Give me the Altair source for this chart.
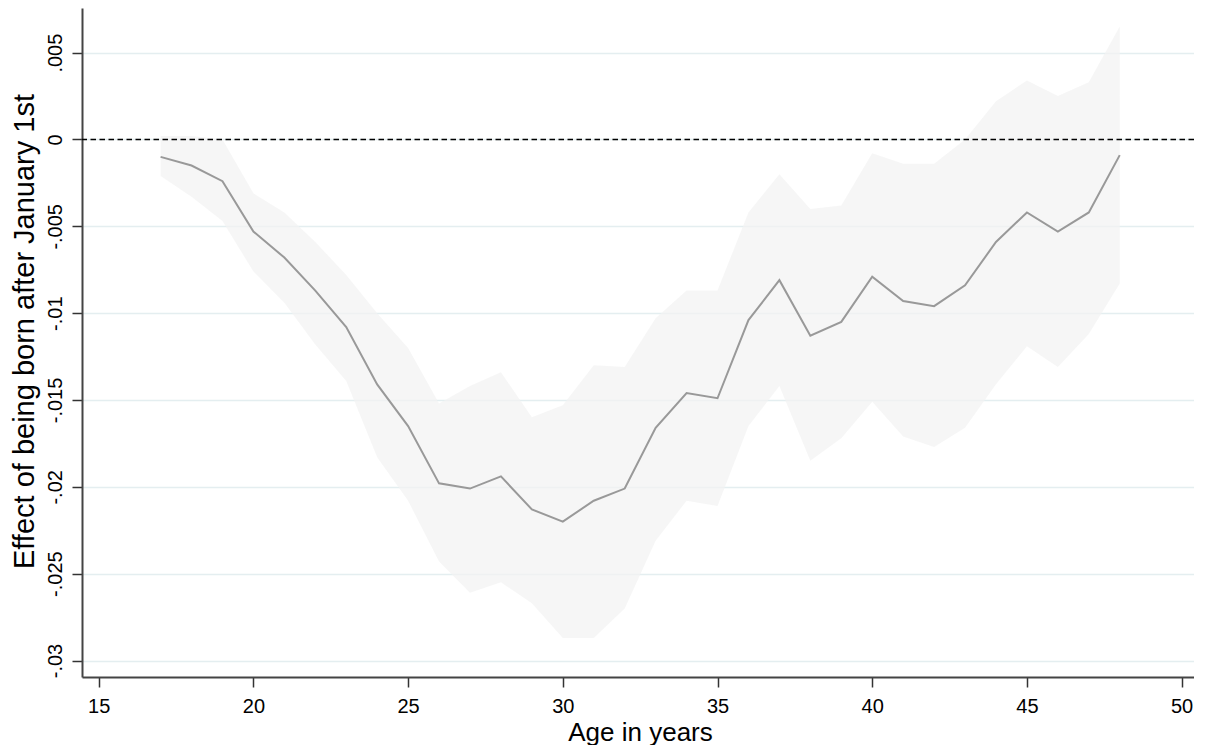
import altair as alt
import pandas as pd

ages = list(range(17, 49))
estimate = [-0.0010, -0.0015, -0.0024, -0.0053, -0.0068, -0.0087, -0.0108, -0.0141,
            -0.0165, -0.0198, -0.0201, -0.0194, -0.0213, -0.0220, -0.0208, -0.0201,
            -0.0166, -0.0146, -0.0149, -0.0104, -0.0081, -0.0113, -0.0105, -0.0079,
            -0.0093, -0.0096, -0.0084, -0.0059, -0.0042, -0.0053, -0.0042, -0.0009]
upper = [0.0002, 0.0002, 0.0000, -0.0031, -0.0042, -0.0059, -0.0078, -0.0100,
         -0.0120, -0.0152, -0.0142, -0.0134, -0.0160, -0.0153, -0.0130, -0.0131,
         -0.0103, -0.0087, -0.0087, -0.0042, -0.0020, -0.0040, -0.0038, -0.0008,
         -0.0014, -0.0014, 0.0000, 0.0022, 0.0034, 0.0025, 0.0033, 0.0065]
lower = [-0.0021, -0.0033, -0.0047, -0.0076, -0.0094, -0.0118, -0.0139, -0.0183,
         -0.0208, -0.0243, -0.0261, -0.0255, -0.0267, -0.0287, -0.0287, -0.0270,
         -0.0231, -0.0208, -0.0211, -0.0165, -0.0142, -0.0185, -0.0172, -0.0151,
         -0.0171, -0.0177, -0.0166, -0.0141, -0.0119, -0.0131, -0.0112, -0.0083]

x_ticks = [15, 20, 25, 30, 35, 40, 45, 50]
y_ticks = [0.005, 0.0, -0.005, -0.01, -0.015, -0.02, -0.025, -0.03]
y_tick_labels = [".005", "0", "-.005", "-.01", "-.015", "-.02", "-.025", "-.03"]
ref_value = [0.0]

df = pd.DataFrame({"age": ages, "est": estimate, "hi": upper, "lo": lower})
ref_df = pd.DataFrame({"y": ref_value})

y_label_expr = " : ".join(
    f"abs(datum.value - ({v})) < 1e-9 ? '{lab}'" for v, lab in zip(y_ticks, y_tick_labels)
) + " : ''"

FONT = "Liberation Sans"
X_DOMAIN = [14.46, 50.40]
Y_DOMAIN = [-0.03095, 0.00757]

x_enc = alt.X(
    "age:Q",
    scale=alt.Scale(domain=X_DOMAIN, nice=False, zero=False),
    axis=alt.Axis(
        values=x_ticks, title="Age in years", grid=False, format="d",
        domainColor="#444444", domainWidth=2, tickColor="#333333", tickWidth=1.5,
        tickSize=10, labelFontSize=20, labelFont=FONT, labelColor="#000000",
        labelBaseline="alphabetic", labelPadding=25,
        titleFont=FONT, titleFontSize=26, titleFontWeight="normal", titleColor="#000000",
        titleBaseline="alphabetic", titleY=63, titleX=558, titleAnchor="middle",
    ),
)

y_scale = alt.Scale(domain=Y_DOMAIN, nice=False, zero=False)
y_axis = alt.Axis(
    values=y_ticks, title="Effect of being born after January 1st",
    grid=True, gridColor="#e4eef0", gridWidth=1.6,
    domainColor="#444444", domainWidth=2, tickColor="#333333", tickWidth=1.5,
    tickSize=10, labelFontSize=20, labelFont=FONT, labelColor="#000000",
    labelAngle=270, labelAlign="center", labelBaseline="alphabetic", labelPadding=11,
    labelExpr=y_label_expr,
    titleFont=FONT, titleFontSize=29, titleFontWeight="normal", titleColor="#000000",
    titleAngle=270, titleAlign="center", titleBaseline="alphabetic",
    titleX=-49, titleY=323,
)

band = alt.Chart(df).mark_area(color="#f2f2f2", opacity=0.72).encode(
    x=x_enc,
    y=alt.Y("lo:Q", scale=y_scale, axis=y_axis),
    y2="hi:Q",
)

ref = alt.Chart(ref_df).mark_rule(color="#000000", strokeWidth=1.6, strokeDash=[5.5, 3.5]).encode(
    y=alt.Y("y:Q", scale=y_scale),
)

line = alt.Chart(df).mark_line(color="#999999", strokeWidth=2).encode(
    x=alt.X("age:Q", scale=alt.Scale(domain=X_DOMAIN, nice=False, zero=False)),
    y=alt.Y("est:Q", scale=y_scale),
)

chart = alt.layer(band, ref, line).properties(
    width=1112,
    height=669,
    autosize=alt.AutoSizeParams(type="none"),
    padding={"left": 74, "top": 0, "right": 0, "bottom": 68},
    background="#ffffff",
).configure_view(stroke=None)

chart.save("out.html", embed_options={"renderer": "svg", "actions": False})
